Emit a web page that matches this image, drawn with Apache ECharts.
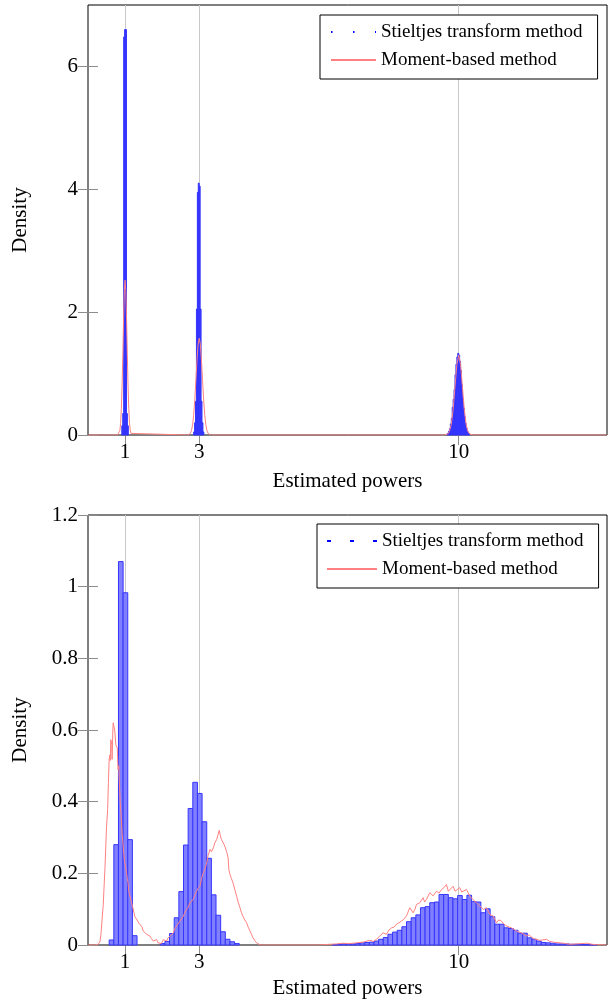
<!DOCTYPE html>
<html><head><meta charset="utf-8">
<script src="https://cdn.jsdelivr.net/npm/echarts@6/dist/echarts.min.js"></script>
<style>html,body{margin:0;padding:0;background:#fff}#c{width:608px;height:1000px}</style>
</head><body><div id="c"></div>
<script>
// ---------- data ----------
const xTicks = [1, 3, 10];
const topYTicks = [0, 2, 4, 6];
const bottomYTicks = [0, 0.2, 0.4, 0.6, 0.8, 1, 1.2];
const legendLabels = {
  stTop: 'Stieltjes transform method', mbTop: 'Moment-based method',
  stBot: 'Stieltjes transform method', mbBot: 'Moment-based method'
};
const xName = 'Estimated powers';
const yName = 'Density';

// top panel histogram (Stieltjes), bin width 0.025
const topBinWidth = 0.025;
const topHist1Start = 0.9125;
const topHist1 = [0.15, 0.35, 6.48, 6.6, 6.6, 0.35, 0.15];
const topHist3Start = 2.85;
const topHist3 = [0.05, 0.2, 0.55, 2.05, 3.95, 4.1, 4.05, 2.05, 0.55, 0.2, 0.05];
const topHist10Start = 9.675;
const topHist10 = [0.015, 0.03, 0.06, 0.1, 0.18, 0.27, 0.45, 0.58, 0.74, 0.98, 1.15, 1.27, 1.33,
                   1.3, 1.2, 1.05, 0.82, 0.6, 0.44, 0.3, 0.19, 0.11, 0.06, 0.03, 0.015];

// top panel moment-based density
const topMoment = [[0,0],[0.8,0],[0.82,0.008],[0.84,0.026],[0.86,0.077],[0.88,0.19],[0.9,0.43],[0.92,0.81],
  [0.94,1.33],[0.96,1.89],[0.98,2.35],[1.0,2.52],[1.02,2.35],[1.04,1.89],[1.06,1.33],[1.08,0.81],[1.1,0.43],
  [1.12,0.19],[1.14,0.077],[1.16,0.026],[1.18,0.008],[1.2,0],
  [2.7,0],[2.73,0.009],[2.76,0.027],[2.79,0.07],[2.82,0.16],[2.85,0.32],[2.88,0.57],[2.91,0.89],[2.94,1.22],
  [2.97,1.48],[3.0,1.575],[3.03,1.48],[3.06,1.22],[3.09,0.89],[3.12,0.57],[3.15,0.32],[3.18,0.16],[3.21,0.07],
  [3.24,0.027],[3.27,0.009],[3.3,0],
  [9.6,0],[9.65,0.003],[9.7,0.014],[9.75,0.057],[9.8,0.176],[9.85,0.42],[9.9,0.79],[9.95,1.15],[10.0,1.3],
  [10.05,1.15],[10.1,0.79],[10.15,0.42],[10.2,0.176],[10.25,0.057],[10.3,0.014],[10.35,0.003],[10.4,0],[14,0]];

// bottom panel histogram (Stieltjes), bins of width 0.12533 from 0.571
const bottomBinStart = 0.571;
const bottomBinWidth = 0.12533;
const bottomHist = [
  0.014, 0.28, 1.07, 0.983, 0.294, 0.026, 0, 0, 0, 0,
  0, 0.004, 0.01, 0.032, 0.076, 0.149, 0.279, 0.381, 0.454, 0.423,
  0.344, 0.242, 0.14, 0.083, 0.037, 0.016, 0.009, 0.004, 0, 0,
  0, 0, 0, 0, 0, 0, 0, 0, 0, 0,
  0, 0, 0, 0, 0, 0, 0, 0, 0.001, 0.002,
  0.003, 0.003, 0.003, 0.004, 0.006, 0.007, 0.008, 0.011, 0.016, 0.021,
  0.03, 0.036, 0.041, 0.051, 0.065, 0.076, 0.084, 0.104, 0.107, 0.118,
  0.12, 0.141, 0.141, 0.132, 0.129, 0.138, 0.127, 0.139, 0.121, 0.12,
  0.09, 0.101, 0.079, 0.058, 0.058, 0.048, 0.046, 0.041, 0.033, 0.033,
  0.02, 0.016, 0.011, 0.007, 0.006, 0.005, 0.003, 0.003, 0.003, 0.002,
  0.002, 0.002, 0.001, 0.001, 0.001];

// bottom panel moment-based density
const bottomMoment = [[0,0],[0.18,0],[0.27,0.002],[0.32,0.008],[0.35,0.03],[0.38,0.072],[0.41,0.11],[0.43,0.155],
  [0.46,0.22],[0.48,0.276],[0.5,0.33],[0.53,0.378],[0.55,0.45],[0.57,0.518],[0.59,0.53],[0.6,0.515],[0.615,0.573],
  [0.64,0.56],[0.65,0.518],[0.67,0.6],[0.68,0.62],[0.70,0.625],[0.72,0.6],[0.75,0.559],[0.77,0.56],[0.79,0.55],
  [0.81,0.49],[0.83,0.5],[0.84,0.467],[0.87,0.398],[0.90,0.35],[0.92,0.31],[0.95,0.276],[0.97,0.25],[0.99,0.23],
  [1.02,0.215],[1.04,0.2],[1.06,0.185],[1.08,0.174],[1.1,0.15],[1.13,0.137],[1.15,0.128],[1.17,0.123],[1.2,0.108],
  [1.22,0.1],[1.24,0.09],[1.26,0.08],[1.29,0.075],[1.31,0.072],[1.35,0.067],[1.38,0.06],[1.4,0.063],[1.43,0.055],
  [1.46,0.05],[1.49,0.039],[1.53,0.038],[1.58,0.03],[1.62,0.028],[1.67,0.025],[1.71,0.018],[1.76,0.011],[1.8,0.009],
  [1.85,0.015],[1.89,0.006],[1.94,0.007],[1.98,0.004],[2.03,0.015],[2.07,0.01],[2.12,0.011],[2.16,0.02],[2.21,0.025],
  [2.25,0.028],[2.3,0.034],[2.34,0.045],[2.39,0.053],[2.43,0.058],[2.48,0.067],[2.52,0.072],[2.57,0.08],[2.61,0.09],
  [2.66,0.099],[2.7,0.105],[2.75,0.118],[2.79,0.122],[2.84,0.127],[2.88,0.14],[2.93,0.15],[2.97,0.158],[3.02,0.164],
  [3.06,0.185],[3.11,0.201],[3.15,0.21],[3.2,0.229],[3.24,0.25],[3.29,0.267],[3.33,0.26],[3.38,0.271],[3.42,0.285],
  [3.47,0.294],[3.5,0.305],[3.54,0.32],[3.57,0.305],[3.6,0.294],[3.65,0.285],[3.69,0.276],[3.74,0.26],[3.78,0.243],
  [3.8,0.21],[3.83,0.197],[3.87,0.185],[3.91,0.174],[3.96,0.155],[4.01,0.136],[4.05,0.12],[4.1,0.104],[4.14,0.09],
  [4.18,0.08],[4.23,0.07],[4.28,0.062],[4.32,0.05],[4.37,0.039],[4.41,0.03],[4.45,0.02],[4.5,0.012],[4.55,0.006],
  [4.6,0.002],[4.65,0],[6.2,0],[6.52,0.002],[6.7,0.003],[6.88,0.005],[7.05,0.004],[7.24,0.006],[7.42,0.008],
  [7.6,0.013],[7.7,0.01],[7.78,0.016],[7.87,0.025],[7.96,0.034],[8.05,0.03],[8.12,0.042],[8.19,0.048],[8.26,0.05],
  [8.32,0.058],[8.39,0.062],[8.46,0.067],[8.52,0.072],[8.59,0.081],[8.68,0.104],[8.77,0.09],[8.82,0.1],[8.86,0.113],
  [8.95,0.118],[9.04,0.132],[9.08,0.12],[9.13,0.127],[9.22,0.146],[9.31,0.137],[9.4,0.15],[9.47,0.145],[9.54,0.155],
  [9.6,0.16],[9.67,0.169],[9.72,0.15],[9.76,0.155],[9.85,0.164],[9.9,0.15],[9.94,0.146],[10.03,0.16],[10.08,0.148],
  [10.12,0.15],[10.21,0.155],[10.3,0.137],[10.37,0.128],[10.43,0.123],[10.5,0.115],[10.57,0.109],[10.66,0.099],
  [10.75,0.104],[10.84,0.085],[10.93,0.081],[11.02,0.062],[11.08,0.07],[11.15,0.067],[11.22,0.058],[11.29,0.053],
  [11.42,0.048],[11.56,0.039],[11.69,0.034],[11.83,0.025],[11.9,0.028],[12.01,0.018],[12.19,0.013],[12.37,0.016],
  [12.45,0.01],[12.55,0.008],[12.82,0.005],[13.0,0.002],[13.18,0.003],[13.45,0.005],[13.6,0.002],[13.72,0.001],[14,0]];

// ---------- build ----------
function bins(start, width, values) {
  const out = [];
  values.forEach((v, i) => { if (v > 0) out.push([start + i * width, start + (i + 1) * width, v]); });
  return out;
}
const topBins = [].concat(
  bins(topHist1Start, topBinWidth, topHist1),
  bins(topHist3Start, topBinWidth, topHist3),
  bins(topHist10Start, topBinWidth, topHist10));
const bottomBins = bins(bottomBinStart, bottomBinWidth, bottomHist);

const FONT = 'Liberation Serif';
const FS = 19;      // legend
const AFS = 21;     // axes
const tickColor = '#8c8c8c';

function xAx(gi, pos, main, gap) {
  return {
    type: 'value', gridIndex: gi, position: pos, min: 0, max: 14,
    axisLine: {show: false},
    axisTick: {show: true, inside: true, length: 10, customValues: xTicks, lineStyle: {color: tickColor}},
    axisLabel: {show: main, customValues: xTicks, margin: 7, fontFamily: FONT, fontSize: AFS, color: '#000'},
    splitLine: {show: main, lineStyle: {color: '#c8c8c8', width: 1}},
    name: main ? xName : '', nameLocation: 'middle', nameGap: gap,
    nameTextStyle: {fontFamily: FONT, fontSize: AFS, color: '#000'}
  };
}
function yAx(gi, pos, main, max, ticks) {
  return {
    type: 'value', gridIndex: gi, position: pos, min: 0, max: max,
    axisLine: {show: false},
    axisTick: {show: true, inside: true, length: 10, customValues: ticks, lineStyle: {color: tickColor}},
    axisLabel: {show: main, customValues: ticks, margin: 10, fontFamily: FONT, fontSize: AFS, color: '#000',
      formatter: v => String(+v.toFixed(2))},
    splitLine: {show: false},
    name: main ? yName : '', nameLocation: 'middle', nameGap: 57, nameRotate: 90,
    nameTextStyle: {fontFamily: FONT, fontSize: AFS, color: '#000'}
  };
}
function hist(data, xi, yi, fill, stroke) {
  return {
    type: 'custom', xAxisIndex: xi, yAxisIndex: yi, data: data, silent: true, z: 2,
    encode: {x: [0, 1], y: 2},
    renderItem: function (params, api) {
      const p0 = api.coord([api.value(0), api.value(2)]);
      const p1 = api.coord([api.value(1), 0]);
      return {type: 'rect', shape: {x: p0[0], y: p0[1], width: p1[0] - p0[0], height: p1[1] - p0[1]},
        style: {fill: fill, stroke: stroke, lineWidth: 1}};
    }
  };
}
function legend(top, left, names, padLeft, iconW) {
  return {
    top: top, left: left, orient: 'vertical', data: names,
    backgroundColor: '#fff', borderColor: '#000', borderWidth: 1, borderRadius: 0,
    padding: [7, 15, 9, padLeft], itemWidth: iconW, itemHeight: 14, itemGap: 8,
    itemStyle: {opacity: 0},
    textStyle: {fontFamily: FONT, fontSize: FS, color: '#000', lineHeight: 20},
    formatter: n => legendLabels[n], selectedMode: false
  };
}

const chart = echarts.init(document.getElementById('c'), null, {renderer: 'canvas'});
chart.setOption({
  animation: false,
  backgroundColor: '#fff',
  grid: [
    {left: 88, top: 5, width: 519, height: 430, show: true, borderColor: '#000', borderWidth: 1, backgroundColor: 'transparent'},
    {left: 88, top: 515, width: 519, height: 431, show: true, borderColor: '#000', borderWidth: 1, backgroundColor: 'transparent'}
  ],
  xAxis: [xAx(0, 'bottom', true, 36), xAx(0, 'top', false, 0), xAx(1, 'bottom', true, 33), xAx(1, 'top', false, 0)],
  yAxis: [yAx(0, 'left', true, 7, topYTicks), yAx(0, 'right', false, 7, topYTicks),
          yAx(1, 'left', true, 1.2, bottomYTicks), yAx(1, 'right', false, 1.2, bottomYTicks)],
  legend: [legend(15, 320, ['stTop', 'mbTop'], 10, 45), legend(524, 317, ['stBot', 'mbBot'], 9, 50)],
  series: [
    hist(topBins, 0, 0, '#3535ff', '#3535ff'),
    hist(bottomBins, 2, 2, '#8080ff', '#3535ff'),
    {name: 'stTop', type: 'line', xAxisIndex: 0, yAxisIndex: 0, data: [], symbol: 'none',
     itemStyle: {color: '#0000ff'}, lineStyle: {color: '#0000ff', width: 1.2, type: [1.5, 20.5]}},
    {name: 'mbTop', type: 'line', xAxisIndex: 0, yAxisIndex: 0, data: topMoment, symbol: 'none', z: 3,
     itemStyle: {color: '#ff8080'}, lineStyle: {color: '#ff8080', width: 1}},
    {name: 'stBot', type: 'line', xAxisIndex: 2, yAxisIndex: 2, data: [], symbol: 'none',
     itemStyle: {color: '#0000ff'}, lineStyle: {color: '#0000ff', width: 1, type: [4, 19]}},
    {name: 'mbBot', type: 'line', xAxisIndex: 2, yAxisIndex: 2, data: bottomMoment, symbol: 'none', z: 3,
     itemStyle: {color: '#ff8080'}, lineStyle: {color: '#ff8080', width: 1}}
  ]
});
</script></body></html>
